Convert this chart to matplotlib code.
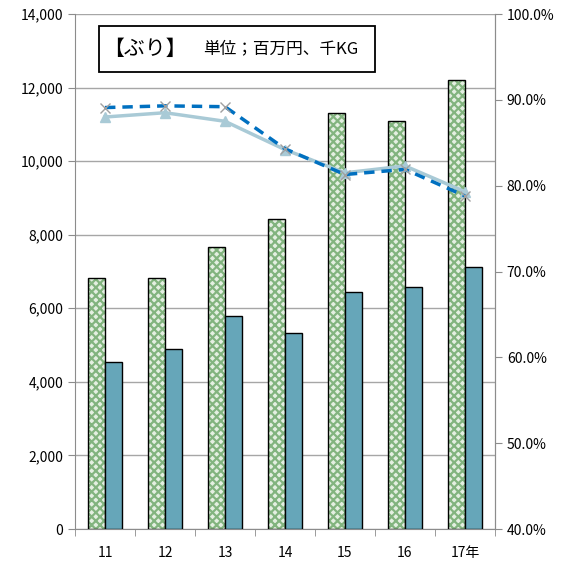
import matplotlib.pyplot as plt
from matplotlib.patches import Rectangle
import numpy as np

plt.rcParams['font.family'] = ['Noto Sans CJK JP', 'DejaVu Sans']
plt.rcParams['hatch.linewidth'] = 1.6

# ── Data ──
years = ["11", "12", "13", "14", "15", "16", "17年"]
amount = [6820, 6820, 7660, 8420, 11300, 11090, 12200]   # 百万円
volume = [4540, 4890, 5790, 5330, 6440, 6580, 7120]      # 千KG
ratio_a = [89.1, 89.3, 89.2, 84.3, 81.3, 81.9, 78.8]     # dashed, x markers
ratio_b = [88.0, 88.5, 87.5, 84.2, 81.5, 82.3, 79.3]     # solid, triangles

x = np.arange(len(years))
w = 0.28

fig = plt.figure(figsize=(5.7, 5.65), dpi=100)
ax = fig.add_axes([0.1316, 0.0637, 0.7368, 0.9115])

# hatched green bars (hatch drawn first, black outline on top)
ax.bar(x - w / 2, amount, w, facecolor="#e4efe2", edgecolor="#82b47f",
       hatch="xxxx", linewidth=0, zorder=2)
ax.bar(x - w / 2, amount, w, facecolor="none", edgecolor="black",
       linewidth=1.0, zorder=3)
ax.bar(x + w / 2, volume, w, color="#66a6b9", edgecolor="black",
       linewidth=1.0, zorder=3)

ax.set_xlim(-0.5, len(years) - 0.5)
ax.set_ylim(0, 14000)
ax.set_yticks(np.arange(0, 14001, 2000))
ax.set_yticklabels([f"{v:,}" for v in range(0, 14001, 2000)], fontsize=10)
ax.yaxis.grid(True, color="#a6a6a6", linewidth=1.0, zorder=0)
ax.set_axisbelow(True)

ax.set_xticks(x)
ax.set_xticklabels(years, fontsize=10)
ax.tick_params(axis="x", length=0, pad=12)
ax.set_xticks(np.arange(-0.5, len(years)), minor=True)
ax.tick_params(axis="x", which="minor", length=5, color="#8c8c8c")
ax.tick_params(axis="y", length=5, color="#8c8c8c")

ax.spines["top"].set_visible(False)
for s in ["left", "bottom", "right"]:
    ax.spines[s].set_color("#8c8c8c")

# ── percentage lines on right axis ──
ax2 = ax.twinx()
ax2.plot(x, ratio_b, color="#a9cad6", linewidth=2.5, marker="^",
         markersize=7, zorder=4)
ax2.plot(x, ratio_a, color="#0070c0", linewidth=2.5, linestyle=(0, (3, 2)),
         marker="x", markersize=7, markeredgecolor="#a0a0a0",
         markeredgewidth=1.0, zorder=5)
ax2.set_ylim(40, 100)
ax2.set_yticks(np.arange(40, 101, 10))
ax2.set_yticklabels([f"{v:.1f}%" for v in range(40, 101, 10)], fontsize=10)
ax2.tick_params(axis="y", length=5, color="#8c8c8c")
for s in ["top", "left", "bottom"]:
    ax2.spines[s].set_visible(False)
ax2.spines["right"].set_color("#8c8c8c")

# title box
ax2.add_patch(Rectangle((0.057, 0.887), 0.657, 0.09, transform=ax2.transAxes,
                        facecolor="white", edgecolor="black", linewidth=1.3,
                        zorder=6))
ax2.text(0.068, 0.932, "【ぶり】", transform=ax2.transAxes, fontsize=15,
         va="center", ha="left", zorder=7)
ax2.text(0.305, 0.932, "単位；百万円、千KG", transform=ax2.transAxes,
         fontsize=12, va="center", ha="left", zorder=7)

plt.savefig("out.png", dpi=100)
